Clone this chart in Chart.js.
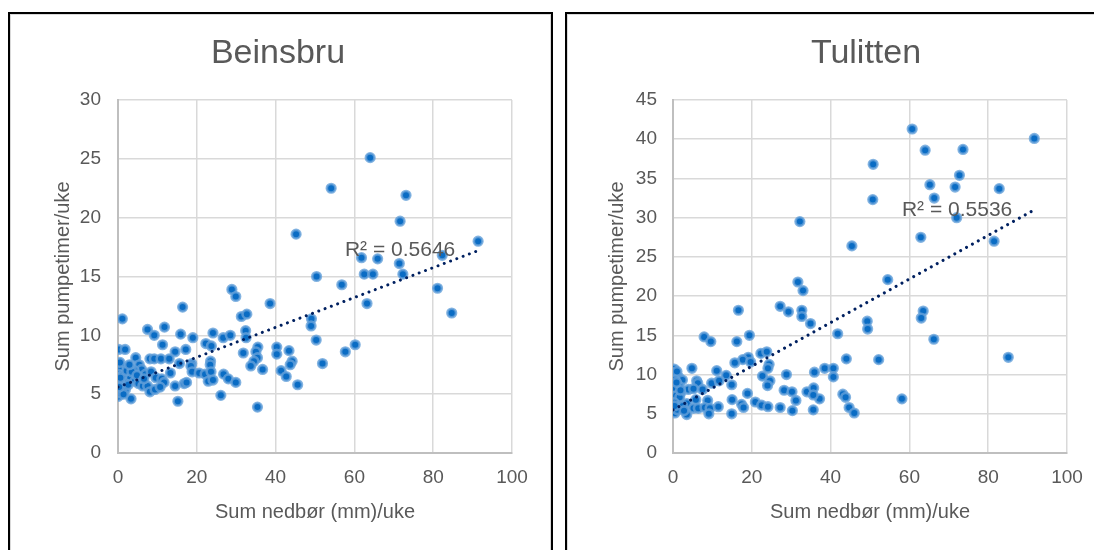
<!DOCTYPE html>
<html><head><meta charset="utf-8">
<script src="https://cdn.jsdelivr.net/npm/chart.js@4.4.0/dist/chart.umd.min.js"></script>
<style>
html,body{margin:0;padding:0;width:1094px;height:550px;overflow:hidden;background:#fff;}
.panel{position:absolute;box-sizing:border-box;border:2px solid #000;box-shadow:inset 0 0 0 1px #d9d9d9;background:#fff;}
canvas{position:absolute;}
</style></head><body>
<div class="panel" style="left:8px;top:12px;width:545px;height:560px"></div>
<div class="panel" style="left:565px;top:12px;width:700px;height:560px"></div>
<canvas id="c1" width="540" height="536" style="left:10px;top:14px"></canvas>
<canvas id="c2" width="598" height="536" style="left:567px;top:14px"></canvas>
<script>
// ---- Data ----
const beinsbruRain = [64.0,54.1,73.1,71.6,45.2,91.4,61.8,65.9,71.4,82.3,
 50.4,62.5,64.7,72.3,56.8,81.1,84.7,63.2,49.1,49.0,
 50.3,60.2,57.7,40.3,40.3,43.4,44.2,43.7,51.9,41.4,
 42.7,45.6,38.6,28.9,29.9,16.4,31.3,32.7,32.4,32.5,
 24.1,26.7,28.5,19.0,15.9,22.3,23.7,17.2,35.5,35.0,
 31.8,35.4,34.5,33.7,36.7,23.5,23.4,18.7,18.5,18.8,
 20.6,22.1,23.6,22.9,24.1,26.8,28.0,29.9,16.8,17.4,
 26.1,35.4,15.6,15.2,1.1,7.5,9.2,11.8,11.3,14.5,
 0.2,1.8,4.5,8.1,9.2,10.9,13.0,5.4,6.0,4.1,
 0.9,0.3,0.1,7.0,8.4,9.6,11.1,11.7,13.3,1.8,
 3.0,4.3,5.2,6.3,7.5,8.1,9.4,10.7,0.9,0.1,
 0.0,3.3,14.5,0.4,0.2,1.1,1.9,0.6,1.4,2.6,
 0.5,2.2,3.5,2.9,4.8,6.6,0.3];
const beinsbruPump = [25.1,22.5,21.9,19.7,18.6,18.0,16.6,16.5,16.1,16.8,
 15.0,15.2,15.2,15.2,14.3,14.0,11.9,12.7,11.4,10.8,
 9.6,9.2,8.6,9.0,8.4,8.7,7.8,7.5,7.6,7.0,
 6.5,5.8,12.7,13.9,13.3,12.4,11.6,11.8,10.4,9.8,
 10.2,9.8,10.0,9.8,10.1,9.3,9.1,8.8,9.0,8.6,
 8.5,8.1,7.8,7.4,7.1,7.8,7.5,7.6,7.4,6.9,
 6.8,6.7,6.9,6.1,6.2,6.7,6.3,6.0,5.9,6.0,
 4.9,3.9,7.6,4.4,11.4,10.5,10.0,10.7,9.2,8.6,
 8.8,8.8,8.1,8.0,8.0,8.0,8.0,7.5,7.1,7.0,
 7.3,7.1,6.7,6.7,6.9,6.4,6.3,6.0,6.8,6.2,
 6.5,6.1,5.9,5.7,5.7,5.2,5.4,5.6,5.8,5.4,
 4.8,4.6,5.7,5.1,6.1,6.6,5.4,6.4,5.0,5.8,
 7.7,7.0,6.9,7.5,6.6,6.3,5.6];
const beinsbruTrendX = [0, 91.4];
const beinsbruTrendY = [5.6, 17.2];
const beinsbruR2 = 'R² = 0.5646';

const tulittenRain = [60.7,91.7,64.0,73.6,50.8,72.7,65.2,71.6,82.8,66.3,
 50.7,72.0,32.2,62.9,81.5,45.4,54.5,31.7,33.0,27.2,
 16.6,29.3,32.7,63.5,63.0,32.7,34.9,49.3,49.4,41.8,
 66.2,85.1,44.0,52.2,38.5,40.7,40.7,43.1,43.8,44.7,
 46.0,58.1,37.2,19.4,22.3,23.8,19.1,17.7,19.7,24.4,
 24.1,22.7,24.6,24.0,28.8,35.9,28.2,30.2,34.0,35.7,
 35.6,31.2,18.9,17.4,17.9,20.9,22.5,24.1,27.2,30.3,
 35.6,7.9,9.6,16.2,4.8,0.3,0.3,1.4,0.0,2.4,
 11.1,13.5,15.7,14.9,6.0,6.3,9.8,11.7,3.9,5.2,
 7.5,2.0,0.0,5.8,8.8,15.0,1.3,3.5,5.2,6.4,
 8.1,9.4,11.5,0.0,0.5,3.5,9.1,14.9,0.2,1.0,
 0.5,1.6,0.4,0.8,1.7,0.3,2.5,1.1,0.4,2.8,
 1.9,0.9];
const tulittenPump = [41.3,40.1,38.6,38.7,36.8,35.4,34.2,33.9,33.7,32.5,
 32.3,30.0,29.5,27.5,27.0,26.4,22.1,21.8,20.7,18.7,
 18.2,18.0,18.2,18.1,17.2,17.4,16.5,16.8,15.8,15.2,
 14.5,12.2,12.0,11.9,10.8,10.8,9.7,7.5,7.1,5.8,
 5.1,6.9,6.9,15.0,12.7,12.9,12.2,11.9,11.6,11.3,
 10.8,9.8,9.2,8.6,10.0,10.3,8.0,7.8,7.8,8.3,
 7.4,6.7,7.6,6.2,5.8,6.5,6.1,5.9,5.8,5.4,
 5.5,14.8,14.2,14.2,10.8,10.7,9.9,9.7,8.9,9.3,
 10.5,9.9,11.5,8.7,9.2,8.9,8.9,9.2,8.1,8.2,
 8.1,7.7,7.8,6.8,6.7,6.8,6.8,6.3,5.7,5.7,
 5.8,5.7,5.9,5.7,5.1,4.9,5.0,5.0,10.2,10.4,
 9.3,8.5,8.3,7.3,7.1,6.4,6.0,5.5,6.0,5.4,
 8.0,9.0];
const tulittenTrendX = [0, 91.7];
const tulittenTrendY = [5.5, 31.0];
const tulittenR2 = 'R² = 0.5536';

const xAxisTitle = 'Sum nedbør (mm)/uke';
const yAxisTitle = 'Sum pumpetimer/uke';

// ---- Rendering ----
const FONT = "'Liberation Sans', Arial, sans-serif";
const TXT = '#595959';

const textPlugin = {
  id: 'texts',
  afterDatasetsDraw(chart, args, o) {
    const ctx = chart.ctx;
    const xs = chart.scales.x, ys = chart.scales.y;
    ctx.save();
    ctx.fillStyle = TXT;
    ctx.textAlign = 'center';
    ctx.textBaseline = 'middle';
    ctx.font = '21px ' + FONT;
    ctx.fillText(o.r2, xs.getPixelForValue(o.r2x), ys.getPixelForValue(o.r2y));
    ctx.font = '34px ' + FONT;
    ctx.fillText(o.title, o.titleX, o.titleY);
    ctx.restore();
  }
};

function build(id, c) {
  const pts = c.rain.map((x, i) => ({x: x, y: c.pump[i]}));
  const trend = c.trendX.map((x, i) => ({x: x, y: c.trendY[i]}));
  return new Chart(document.getElementById(id), {
    type: 'scatter',
    data: {datasets: [
      {data: trend, showLine: true, pointRadius: 0, borderColor: '#002060', borderWidth: 3,
       borderDash: [0.01, 6.7], borderCapStyle: 'round', fill: false, order: 0},
      {data: pts, pointRadius: 4.3, pointHoverRadius: 4.3, backgroundColor: '#0a6cc4',
       borderColor: 'rgba(100,160,218,0.8)', borderWidth: 2.6, order: 1}
    ]},
    options: {
      responsive: false, animation: false, events: [],
      layout: {padding: {left: 0, right: c.padRight, top: 86, bottom: 0}},
      plugins: {
        legend: {display: false}, tooltip: {enabled: false}, title: {display: false},
        texts: {r2: c.r2, r2x: c.r2x, r2y: c.r2y, title: c.title, titleX: c.titleX, titleY: 39.5}
      },
      scales: {
        x: {type: 'linear', min: 0, max: 100,
          ticks: {stepSize: 20, color: TXT, font: {family: FONT, size: 19}, padding: 13.6},
          grid: {color: '#d9d9d9', lineWidth: 1.5, drawTicks: false},
          border: {color: '#bfbfbf', width: 2},
          title: {display: true, text: xAxisTitle, color: TXT, font: {family: FONT, size: 20}, padding: {top: 0, bottom: 26}},
          afterFit: s => { s.height = 97; }
        },
        y: {type: 'linear', min: 0, max: c.yMax,
          ticks: {stepSize: 5, color: TXT, font: {family: FONT, size: 19}, padding: c.yTickPad},
          grid: {color: '#d9d9d9', lineWidth: 1.5, drawTicks: false},
          border: {color: '#bfbfbf', width: 2},
          title: {display: true, text: yAxisTitle, color: TXT, font: {family: FONT, size: 20}, padding: {top: c.yTitlePad, bottom: 0}},
          afterFit: s => { s.width = c.yWidth; }
        }
      }
    },
    plugins: [textPlugin]
  });
}

build('c1', {rain: beinsbruRain, pump: beinsbruPump, trendX: beinsbruTrendX, trendY: beinsbruTrendY,
  title: 'Beinsbru', titleX: 268, r2: beinsbruR2, r2x: 71.6, r2y: 17.2, yMax: 30,
  padRight: 38, yWidth: 108, yTickPad: 17, yTitlePad: 41});
build('c2', {rain: tulittenRain, pump: tulittenPump, trendX: tulittenTrendX, trendY: tulittenTrendY,
  title: 'Tulitten', titleX: 299, r2: tulittenR2, r2x: 72.1, r2y: 31.0, yMax: 45,
  padRight: 98, yWidth: 106, yTickPad: 16, yTitlePad: 38});
</script>
</body></html>
